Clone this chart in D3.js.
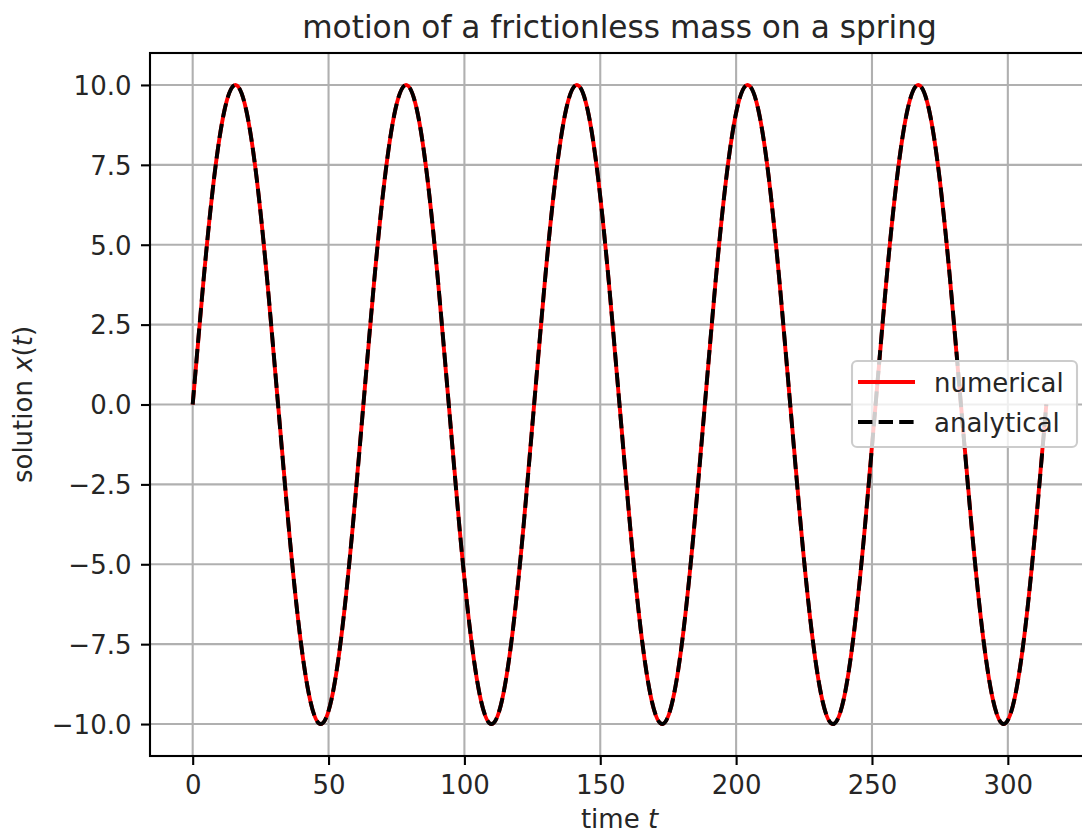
<!DOCTYPE html>
<html>
<head>
<meta charset="utf-8">
<script src="https://cdn.jsdelivr.net/npm/d3@7"></script>
<style>
  html, body { margin: 0; padding: 0; background: #fff; }
  svg { display: block; font-family: "DejaVu Sans", sans-serif; }
</style>
</head>
<body>
<div id="chart"></div>
<script>
// time samples (t)
const time = [
    0, 3.93, 7.85, 11.78, 15.71, 19.63, 23.56, 27.49, 31.42, 35.34,
    39.27, 43.2, 47.12, 51.05, 54.98, 58.9, 62.83, 66.76, 70.69, 74.61,
    78.54, 82.47, 86.39, 90.32, 94.25, 98.17, 102.1, 106.03, 109.96, 113.88,
    117.81, 121.74, 125.66, 129.59, 133.52, 137.44, 141.37, 145.3, 149.23, 153.15,
    157.08, 161.01, 164.93, 168.86, 172.79, 176.71, 180.64, 184.57, 188.5, 192.42,
    196.35, 200.28, 204.2, 208.13, 212.06, 215.98, 219.91, 223.84, 227.77, 231.69,
    235.62, 239.55, 243.47, 247.4, 251.33, 255.25, 259.18, 263.11, 267.04, 270.96,
    274.89, 278.82, 282.74, 286.67, 290.6, 294.52, 298.45, 302.38, 306.31, 310.23,
    314.16
];

// numerical solution x(t)
const numerical = [
    0, 3.83, 7.07, 9.24, 10, 9.24, 7.07, 3.83, 0, -3.83,
    -7.07, -9.24, -10, -9.24, -7.07, -3.83, 0, 3.83, 7.07, 9.24,
    10, 9.24, 7.07, 3.83, 0, -3.83, -7.07, -9.24, -10, -9.24,
    -7.07, -3.83, 0, 3.83, 7.07, 9.24, 10, 9.24, 7.07, 3.83,
    0, -3.83, -7.07, -9.24, -10, -9.24, -7.07, -3.83, 0, 3.83,
    7.07, 9.24, 10, 9.24, 7.07, 3.83, 0, -3.83, -7.07, -9.24,
    -10, -9.24, -7.07, -3.83, 0, 3.83, 7.07, 9.24, 10, 9.24,
    7.07, 3.83, 0, -3.83, -7.07, -9.24, -10, -9.24, -7.07, -3.83,
    0
];

// analytical solution x(t) (overlaps numerical)
const analytical = [
    0, 3.83, 7.07, 9.24, 10, 9.24, 7.07, 3.83, 0, -3.83,
    -7.07, -9.24, -10, -9.24, -7.07, -3.83, 0, 3.83, 7.07, 9.24,
    10, 9.24, 7.07, 3.83, 0, -3.83, -7.07, -9.24, -10, -9.24,
    -7.07, -3.83, 0, 3.83, 7.07, 9.24, 10, 9.24, 7.07, 3.83,
    0, -3.83, -7.07, -9.24, -10, -9.24, -7.07, -3.83, 0, 3.83,
    7.07, 9.24, 10, 9.24, 7.07, 3.83, 0, -3.83, -7.07, -9.24,
    -10, -9.24, -7.07, -3.83, 0, 3.83, 7.07, 9.24, 10, 9.24,
    7.07, 3.83, 0, -3.83, -7.07, -9.24, -10, -9.24, -7.07, -3.83,
    0
];

const xTicks = [0, 50, 100, 150, 200, 250, 300];
const yTicks = [-10, -7.5, -5, -2.5, 0, 2.5, 5, 7.5, 10];
const legendLabels = ['numerical', 'analytical'];

const W = 1082, H = 835;
const box = { left: 150, right: 1089, top: 53, bottom: 756 };
const tickFont = 26;
const lw = 3.9, thin = 2.1, dash = '14.4,6.2';

const svg = d3.select('#chart')
    .append('svg')
    .attr('width', W)
    .attr('height', H);

const x = d3.scaleLinear().domain([-15.71, 329.87]).range([box.left, box.right]);
const y = d3.scaleLinear().domain([-11, 11]).range([box.bottom, box.top]);

// grid
const grid = svg.append('g').attr('stroke', '#b0b0b0').attr('stroke-width', thin);
grid.selectAll('.gx').data(xTicks).enter().append('line')
    .attr('x1', d => x(d)).attr('x2', d => x(d))
    .attr('y1', box.top).attr('y2', box.bottom);
grid.selectAll('.gy').data(yTicks).enter().append('line')
    .attr('x1', box.left).attr('x2', box.right)
    .attr('y1', d => y(d)).attr('y2', d => y(d));

svg.append('defs').append('clipPath').attr('id', 'clip')
    .append('rect')
    .attr('x', box.left).attr('y', box.top)
    .attr('width', box.right - box.left).attr('height', box.bottom - box.top);

const line = d3.line()
    .x(d => x(d[0]))
    .y(d => y(d[1]))
    .curve(d3.curveNatural);

const plot = svg.append('g').attr('clip-path', 'url(#clip)');

plot.append('path')
    .datum(time.map((t, i) => [t, numerical[i]]))
    .attr('fill', 'none')
    .attr('stroke', '#ff0000')
    .attr('stroke-width', lw)
    .attr('d', line);

plot.append('path')
    .datum(time.map((t, i) => [t, analytical[i]]))
    .attr('fill', 'none')
    .attr('stroke', '#000000')
    .attr('stroke-width', lw)
    .attr('stroke-dasharray', dash)
    .attr('d', line);

// axes
const xAxis = svg.append('g')
    .attr('transform', `translate(0,${box.bottom})`)
    .call(d3.axisBottom(x).tickValues(xTicks).tickSize(9).tickPadding(9).tickFormat(d3.format('d')));

const yAxis = svg.append('g')
    .attr('transform', `translate(${box.left},0)`)
    .call(d3.axisLeft(y).tickValues(yTicks).tickSize(9).tickPadding(9.5)
        .tickFormat(d => d3.format('.1f')(d).replace('-', '\u2212')));

[xAxis, yAxis].forEach(g => {
    g.select('.domain').remove();
    g.selectAll('line').attr('stroke', '#000').attr('stroke-width', thin);
    g.selectAll('text')
        .attr('fill', '#262626')
        .style('font-size', tickFont + 'px')
        .style('font-family', '"DejaVu Sans", sans-serif');
});
xAxis.selectAll('text').attr('dy', null).attr('y', 38);
yAxis.selectAll('text').attr('dy', '0.36em');

// spines (right spine falls outside the picture)
svg.append('rect')
    .attr('x', box.left).attr('y', box.top)
    .attr('width', box.right - box.left).attr('height', box.bottom - box.top)
    .attr('fill', 'none')
    .attr('stroke', '#000')
    .attr('stroke-width', thin);

// title
svg.append('text')
    .attr('x', (box.left + box.right) / 2)
    .attr('y', 38)
    .attr('text-anchor', 'middle')
    .attr('fill', '#262626')
    .style('font-size', '31.2px')
    .text('motion of a frictionless mass on a spring');

// x label
const xl = svg.append('text')
    .attr('x', (box.left + box.right) / 2)
    .attr('y', 828)
    .attr('text-anchor', 'middle')
    .attr('fill', '#262626')
    .style('font-size', tickFont + 'px');
xl.append('tspan').text('time ');
xl.append('tspan').attr('font-style', 'italic').text('t');

// y label
const yl = svg.append('text')
    .attr('transform', `translate(32,${(box.top + box.bottom) / 2}) rotate(-90)`)
    .attr('text-anchor', 'middle')
    .attr('fill', '#262626')
    .style('font-size', tickFont + 'px');
yl.append('tspan').text('solution ');
yl.append('tspan').attr('font-style', 'italic').text('x');
yl.append('tspan').text('(');
yl.append('tspan').attr('font-style', 'italic').text('t');
yl.append('tspan').text(')');

// legend
const legend = svg.append('g');
legend.append('rect')
    .attr('x', 852).attr('y', 361)
    .attr('width', 225).attr('height', 86)
    .attr('rx', 5).attr('ry', 5)
    .attr('fill', '#ffffff').attr('fill-opacity', 0.8)
    .attr('stroke', '#cccccc').attr('stroke-width', thin);

const legendStyles = [
    { stroke: '#ff0000', dash: null },
    { stroke: '#000000', dash: dash }
];
legendLabels.forEach((label, i) => {
    const cy = 382 + i * 40;
    legend.append('line')
        .attr('x1', 858).attr('x2', 915)
        .attr('y1', cy).attr('y2', cy)
        .attr('stroke', legendStyles[i].stroke)
        .attr('stroke-width', lw)
        .attr('stroke-dasharray', legendStyles[i].dash);
    legend.append('text')
        .attr('x', 934)
        .attr('y', cy + 9.5)
        .attr('fill', '#262626')
        .style('font-size', tickFont + 'px')
        .text(label);
});
</script>
</body>
</html>
